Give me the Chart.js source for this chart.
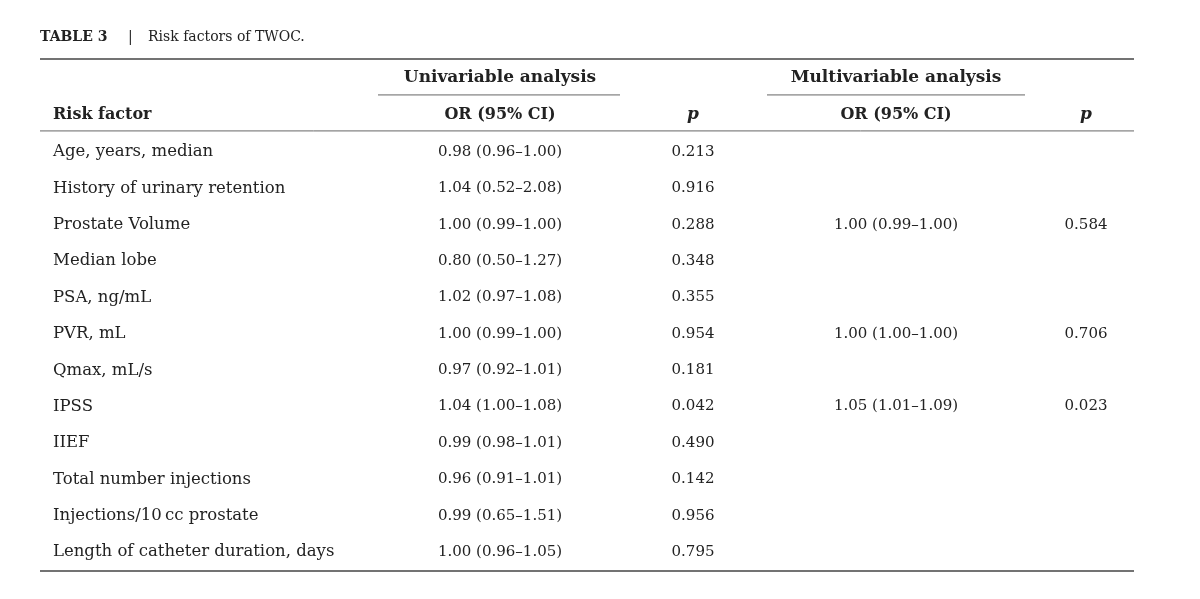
<!DOCTYPE html>
<html><head><meta charset="utf-8">
<script src="https://cdn.jsdelivr.net/npm/chart.js@4"></script>
<style>html,body{margin:0;padding:0;background:#fff}#wrap{width:1200px;height:599px}</style>
</head><body><div id="wrap"><canvas id="c"></canvas></div>
<script>
const factors = ["Age, years, median","History of urinary retention","Prostate Volume","Median lobe","PSA, ng/mL","PVR, mL","Qmax, mL/s","IPSS","IIEF","Total number injections","Injections/10\u2009cc prostate","Length of catheter duration, days"];
const uniOR = ["0.98 (0.96\u20131.00)","1.04 (0.52\u20132.08)","1.00 (0.99\u20131.00)","0.80 (0.50\u20131.27)","1.02 (0.97\u20131.08)","1.00 (0.99\u20131.00)","0.97 (0.92\u20131.01)","1.04 (1.00\u20131.08)","0.99 (0.98\u20131.01)","0.96 (0.91\u20131.01)","0.99 (0.65\u20131.51)","1.00 (0.96\u20131.05)"];
const uniP = ["0.213","0.916","0.288","0.348","0.355","0.954","0.181","0.042","0.490","0.142","0.956","0.795"];
const multiOR = ["","","1.00 (0.99\u20131.00)","","","1.00 (1.00\u20131.00)","","1.05 (1.01\u20131.09)","","","",""];
const multiP = ["","","0.584","","","0.706","","0.023","","","",""];
const headers = ["Risk factor","OR (95% CI)","p","OR (95% CI)","p"];
const groups = ["Univariable analysis","Multivariable analysis"];
const title = "Risk factors of TWOC.";

const colX = [53, 500, 693, 896, 1086];
const serif = '"DejaVu Serif", "Liberation Serif", serif';
const C = '#222';

const tablePlugin = {
  id:'table',
  afterDraw(chart){
    const ctx = chart.ctx, xs = chart.scales.x, ys = chart.scales.y;
    const X = v => xs.getPixelForValue(v), Y = v => ys.getPixelForValue(v);
    ctx.save();
    ctx.fillStyle = C; ctx.textBaseline = 'middle';
    // title
    ctx.font = 'bold 14px ' + serif; ctx.textAlign='left';
    ctx.fillText('TABLE 3', X(40), Y(-3.14));
    ctx.font = '14px ' + serif;
    ctx.fillText('|', X(128), Y(-3.14));
    ctx.fillText(title, X(148), Y(-3.14));
    const line = (x1,x2,r,w,col)=>{ctx.beginPath();ctx.strokeStyle=col;ctx.lineWidth=w;ctx.moveTo(X(x1),Y(r));ctx.lineTo(X(x2),Y(r));ctx.stroke();};
    line(40,1134,-2.56,1.5,'#444');
    line(378,620,-1.57,1,'#666');
    line(767,1025,-1.57,1,'#666');
    line(40,1134,-0.58,1,'#666');
    line(40,1134,11.52,1.5,'#444');
    ctx.font = 'bold 17px ' + serif; ctx.textAlign='center';
    ctx.fillText(groups[0], X(500), Y(-2.06));
    ctx.fillText(groups[1], X(896), Y(-2.06));
    headers.forEach((h,i)=>{
      ctx.textAlign = i===0?'left':'center';
      ctx.font = (h==='p'?'italic bold 17px ':'bold 16px ') + serif;
      ctx.fillText(h, X(colX[i]), Y(-1.03));
    });
    const cols = [factors, uniOR, uniP, multiOR, multiP];
    cols.forEach((arr,ci)=>{
      ctx.textAlign = ci===0?'left':'center';
      ctx.font = (ci===0?'16.5px ':'15px ') + serif;
      arr.forEach((t,ri)=>{ if(t) ctx.fillText(t, X(colX[ci]), Y(ri)); });
    });
    ctx.restore();
  }
};

new Chart(document.getElementById('c'), {
  type:'scatter',
  data:{datasets:[{data:factors.map((f,i)=>({x:colX[0],y:i})),pointRadius:0}]},
  options:{
    responsive:true, maintainAspectRatio:false, animation:false,
    layout:{padding:0},
    plugins:{legend:{display:false},tooltip:{enabled:false}},
    scales:{
      x:{type:'linear',min:0,max:1200,display:false},
      y:{type:'linear',reverse:true,min:-4.18,max:12.29,display:false}
    }
  },
  plugins:[tablePlugin]
});
</script></body></html>
